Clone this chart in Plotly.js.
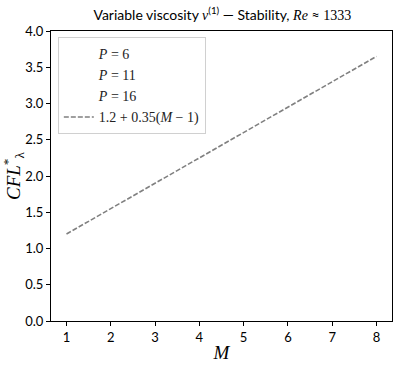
<!DOCTYPE html>
<html>
<head>
<meta charset="utf-8">
<script src="https://cdn.plot.ly/plotly-3.0.1.min.js"></script>
<style>
  body { margin: 0; background: #fff; }
  #chart { width: 397px; height: 365px; }
</style>
</head>
<body>
<div id="chart"></div>
<script>
// data
const mValues = [1, 2, 3, 4, 5, 6, 7, 8];
const fitValues = [1.2, 1.55, 1.9, 2.25, 2.6, 2.95, 3.3, 3.65];
const pLabels = ["6", "11", "16"];

const serif = "Liberation Serif, DejaVu Serif, serif";
const sans = "Lato, Open Sans, DejaVu Sans, sans-serif";
const m = (s) => `<span style="font-family:${serif}"><i>${s}</i></span>`;

// P series have no points in the figure, only legend entries
const pTraces = pLabels.map((p) => ({
  x: [null],
  y: [null],
  mode: "markers",
  name: `<i>P</i> = ${p}`,
  marker: { size: 0.1, color: "rgba(0,0,0,0)" },
  hoverinfo: "skip",
}));

const fit = {
  x: mValues,
  y: fitValues,
  mode: "lines",
  name: "1.2 + 0.35(<i>M</i> − 1)",
  line: { color: "#808080", width: 1.6, dash: "5px,2px" },
};

const axisCommon = {
  showline: true,
  mirror: true,
  linecolor: "#000",
  linewidth: 1,
  ticks: "outside",
  ticklen: 4,
  tickcolor: "#000",
  showgrid: false,
  zeroline: false,
  tickfont: { family: sans, size: 13, color: "#000" },
};

const layout = {
  width: 397,
  height: 365,
  margin: { l: 51, r: 5, t: 31, b: 44 },
  paper_bgcolor: "#fff",
  plot_bgcolor: "#fff",
  title: {
    text: `Variable viscosity ${m("ν")}<sup>(1)</sup> — Stability, ${m("Re")} ≈ <span style="font-family:${serif}">1333</span>`,
    x: 0.56,
    xanchor: "center",
    y: 0.96,
    yanchor: "middle",
    font: { family: sans, size: 14, color: "#000" },
  },
  xaxis: {
    ...axisCommon,
    range: [0.65, 8.35],
    dtick: 1,
    title: { text: "<i>M</i>", font: { family: serif, size: 19, color: "#000" }, standoff: 2 },
  },
  yaxis: {
    ...axisCommon,
    range: [0, 4],
    dtick: 0.5,
    tickformat: ".1f",
    title: {
      text: "<i>CFL</i><sup>*</sup><sub>λ</sub>",
      font: { family: serif, size: 19, color: "#000" },
      standoff: 4,
    },
  },
  showlegend: true,
  legend: {
    x: 0.02,
    y: 0.98,
    xanchor: "left",
    yanchor: "top",
    bgcolor: "rgba(255,255,255,0.9)",
    bordercolor: "#d0d0d0",
    borderwidth: 1,
    font: { family: serif, size: 14, color: "#222" },
    tracegroupgap: 0,
  },
};

Plotly.newPlot("chart", [...pTraces, fit], layout, { displayModeBar: false, staticPlot: true });
</script>
</body>
</html>
